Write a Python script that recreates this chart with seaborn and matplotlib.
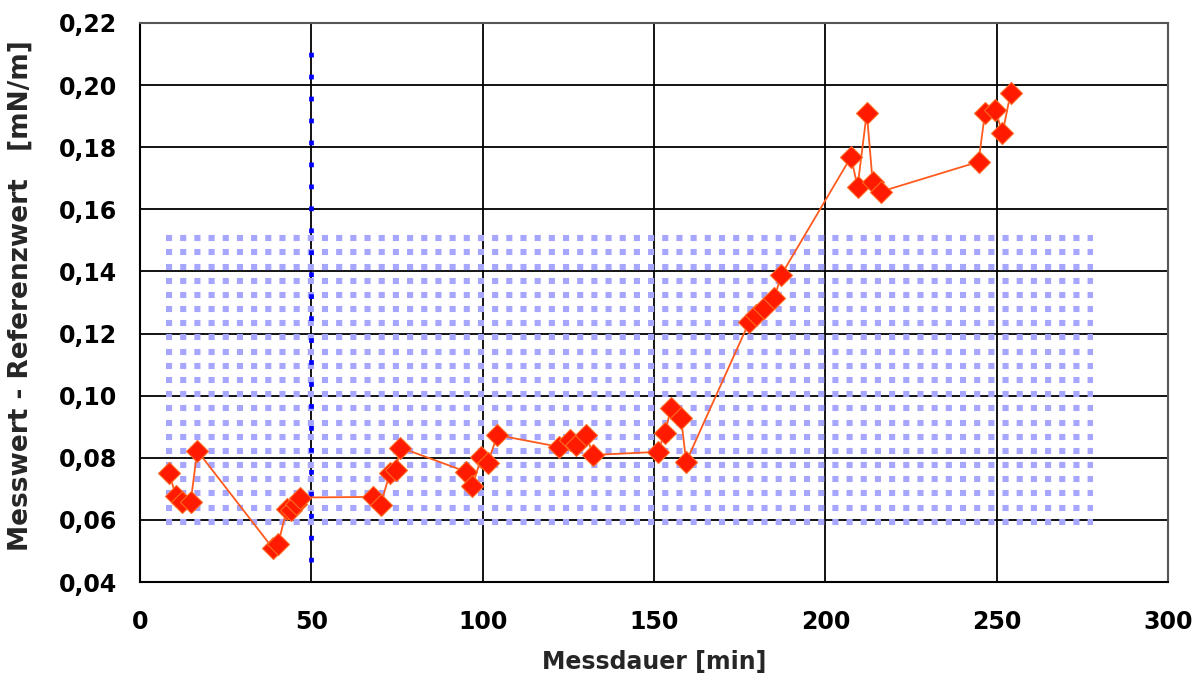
import numpy as np
import pandas as pd
import matplotlib
matplotlib.use("Agg")
import matplotlib.pyplot as plt
import seaborn as sns

# ---- data ----
messdauer = [8.5, 10.5, 12.4, 14.8, 16.7, 38.8, 40.3, 42.8, 44.2, 45.4, 46.6,
             68.0, 70.2, 72.9, 74.6, 76.0, 95.2, 97.0, 99.6, 101.5, 104.3,
             122.4, 125.4, 127.3, 130.2, 132.2, 151.1, 153.1, 155.0, 157.9, 159.4,
             177.8, 179.8, 182.2, 185.1, 187.1, 207.5, 209.4, 212.1, 213.8, 216.2,
             244.7, 246.6, 249.6, 251.7, 254.1]
differenz = [0.0750, 0.0677, 0.0658, 0.0658, 0.0823, 0.0508, 0.0521, 0.0634, 0.0632, 0.0650, 0.0672,
             0.0674, 0.0648, 0.0750, 0.0760, 0.0833, 0.0755, 0.0709, 0.0801, 0.0784, 0.0873,
             0.0835, 0.0857, 0.0841, 0.0873, 0.0809, 0.0819, 0.0879, 0.0959, 0.0927, 0.0787,
             0.1238, 0.1260, 0.1281, 0.1313, 0.1388, 0.1769, 0.1673, 0.1911, 0.1689, 0.1657,
             0.1753, 0.1911, 0.1920, 0.1845, 0.1976]

# tolerance band (dotted area)
band_x = [7.6, 278.0]
band_y = [0.0594, 0.1507]
band_rows = 21

# vertical marker line
vline_x = 50
vline_y = [0.0464, 0.2129]

x_ticks = [0, 50, 100, 150, 200, 250, 300]
y_ticks = [0.04, 0.06, 0.08, 0.10, 0.12, 0.14, 0.16, 0.18, 0.20, 0.22]
y_ticklabels = ["0,04", "0,06", "0,08", "0,10", "0,12", "0,14", "0,16", "0,18", "0,20", "0,22"]

df = pd.DataFrame({"Messdauer": messdauer, "Differenz": differenz})

sns.set_style("white")
plt.rcParams["font.family"] = ["DejaVu Sans"]

fig = plt.figure(figsize=(12, 6.86), dpi=100)
ax = fig.add_axes([140 / 1200, 1 - 582 / 686, (1168 - 140) / 1200, (582 - 23) / 686])

ax.set_xlim(0, 300)
ax.set_ylim(0.04, 0.22)

# grid
ax.set_axisbelow(True)
ax.grid(True, color="black", linewidth=1.3)

# dotted band
for yy in np.linspace(band_y[0], band_y[1], band_rows):
    ax.plot(band_x, [yy, yy], color="#a6a6ff", linewidth=4.4,
            linestyle=(0, (1, 1.32)), dash_capstyle="butt", zorder=1.2)

# blue dotted vertical line
ax.plot([vline_x, vline_x], vline_y, color="#0000ff", linewidth=3.4,
        linestyle=(0, (1, 3.65)), dash_capstyle="butt", zorder=1.5)

# measurement series
sns.lineplot(data=df, x="Messdauer", y="Differenz", ax=ax, sort=False, estimator=None,
             color="#ff5a1e", linewidth=1.3, marker="D", markersize=11,
             markerfacecolor="#ff1a00", markeredgecolor="#ff6a20", markeredgewidth=0.8,
             zorder=3)

ax.set_xticks(x_ticks)
ax.set_xticklabels([str(v) for v in x_ticks])
ax.set_yticks(y_ticks)
ax.set_yticklabels(y_ticklabels)

for lab in ax.get_xticklabels() + ax.get_yticklabels():
    lab.set_fontweight("bold")
    lab.set_fontsize(17)

ax.tick_params(axis="y", direction="inout", length=9, width=1.3, pad=12, colors="black")
ax.tick_params(axis="x", direction="out", length=7, width=1.3, pad=13, colors="black")

for side in ["left", "bottom"]:
    ax.spines[side].set_color("black")
    ax.spines[side].set_linewidth(1.5)
for side in ["top", "right"]:
    ax.spines[side].set_color("#555555")
    ax.spines[side].set_linewidth(1.5)

ax.set_xlabel("Messdauer [min]", fontsize=17, fontweight="bold", labelpad=12)
ax.set_ylabel("Messwert - Referenzwert   [mN/m]", fontsize=19, fontweight="bold")
ax.yaxis.set_label_coords(-0.103, 0.513)

fig.savefig("out.png", dpi=100)
